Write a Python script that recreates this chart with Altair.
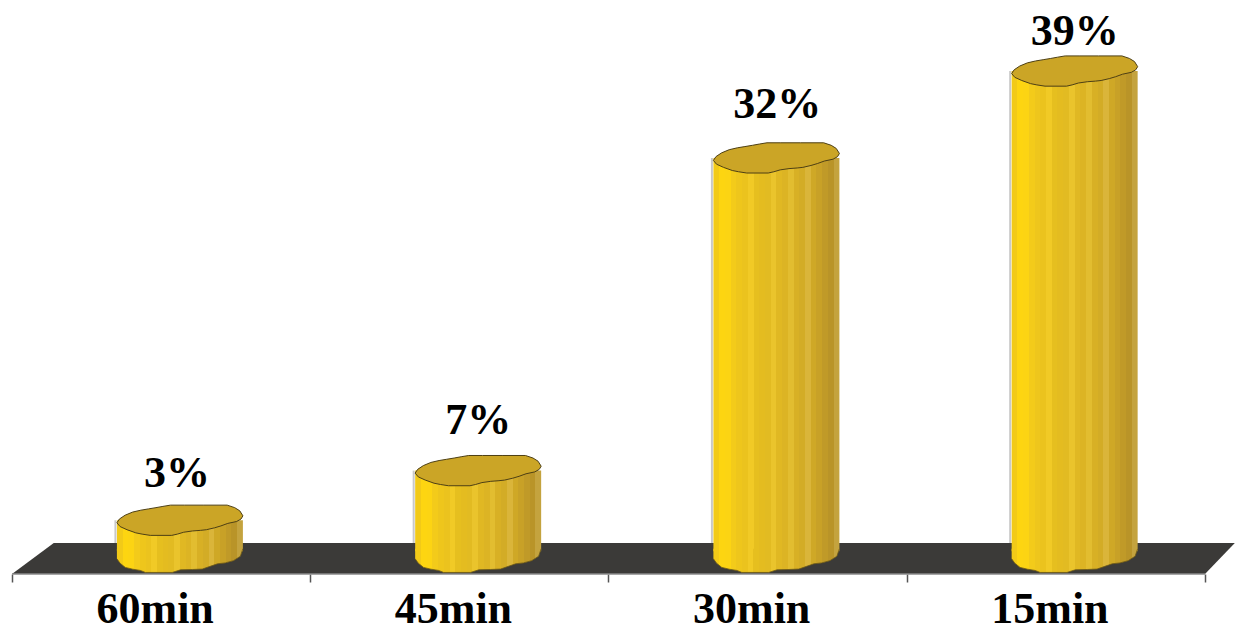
import altair as alt
import pandas as pd

categories = ["60min", "45min", "30min", "15min"]
bar_values = [2.8, 6.8, 32, 39]
value_labels = ["3%", "7%", "32%", "39%"]
label_heights = [5.48, 9.75, 35.2, 41.1]
label_positions = [0.553, 1.563, 2.566, 3.563]
tick_positions = [0, 1, 2, 3, 4]
floor_x = [0.0, 0.14, 4.0, 4.1]
floor_top = [-1.531, 0.967, 0.967, 0.967]
floor_bottom = [-1.531, -1.531, -1.531, 0.967]
facet_colors = ["#f2ca18", "#fdd511", "#fcd413", "#f3cb1a", "#eec61c", "#ebc31e", "#f1ca26",
                "#e6bf1f", "#e4bc20", "#e2bb22", "#eac42c", "#e0b823", "#dcb424", "#e2bd30",
                "#d8b025", "#d3ac26", "#dab53a", "#cfa826", "#c8a127", "#c09a28", "#b99428",
                "#c4a33e"]

BAR_OFFSET = 0.563
BAR_HALF = 0.2112
SYMBOL_SIZE = 126 ** 2
TOP_SHAPE = ("M-1,.04L-.96,-.02L-.87,-.08L-.75,-.13L-.62,-.16L-.5,-.18L-.38,-.2L-.27,-.22L-.15,-.24"
             "L.07,-.24L.38,-.24L.75,-.24L.87,-.2L.95,-.15L1,-.07L.97,-.02L.9,.02L.76,.05L.65,.09"
             "L.55,.12L.42,.15L.33,.16L.2,.17L.06,.19L-.04,.22L-.13,.24L-.47,.24L-.6,.22L-.7,.2"
             "L-.84,.15L-.95,.1Z")
BOTTOM_EDGE = ("M-1,.06L-.95,.13L-.867,.197L-.75,.225L-.628,.245L-.548,.277L-.122,.277L.01,.235"
               "L.2,.23L.356,.223L.48,.18L.596,.14L.72,.125L.85,.09L.96,.02L1,-.1")
BOTTOM_FILL = BOTTOM_EDGE + "L-1,-.1Z"

stops = []
for i, c in enumerate(facet_colors):
    stops.append(alt.GradientStop(offset=i / len(facet_colors), color=c))
    stops.append(alt.GradientStop(offset=(i + 1) / len(facet_colors), color=c))
facets = alt.Gradient(gradient="linear", stops=stops, x1=0, x2=1, y1=0, y2=0)

bars = pd.DataFrame({
    "category": categories,
    "value": bar_values,
    "label": value_labels,
    "center": [i + BAR_OFFSET for i in range(len(categories))],
    "left": [i + BAR_OFFSET - BAR_HALF for i in range(len(categories))],
    "right": [i + BAR_OFFSET + BAR_HALF for i in range(len(categories))],
    "label_x": label_positions,
    "cat_x": [i + 0.48 for i in range(len(categories))],
    "zero": 0.0,
    "body_end": 0.3,
    "floor": 0.967,
    "label_y": label_heights,
    "cat_y": -5.48,
})
floor = pd.DataFrame({"fx": floor_x, "ftop": floor_top, "fbot": floor_bottom})
baseline = pd.DataFrame({"x0": [min(tick_positions)], "x1": [max(tick_positions)], "y0": [-1.531]})

x_scale = alt.Scale(domain=[-0.0134, 4.1375], nice=False, zero=False)
y_scale = alt.Scale(domain=[-1.531, 44.08], nice=False, zero=False)
x_axis = alt.Axis(values=tick_positions, labels=False, title=None, grid=False, domain=False,
                  tickColor="#555555", tickSize=8, tickWidth=1.5)


def xq(field):
    return alt.X(field, type="quantitative", scale=x_scale, axis=x_axis)


def yq(field):
    return alt.Y(field, type="quantitative", scale=y_scale, axis=None)


floor_layer = alt.Chart(floor).mark_area(color="#3b3a38", line=False, opacity=1).encode(
    x=xq("fx"), y=yq("ftop"), y2="fbot:Q")
base_rule = alt.Chart(baseline).mark_rule(color="#8a8a8a", strokeWidth=1.5).encode(
    x=xq("x0"), x2="x1:Q", y=yq("y0"))

base = alt.Chart(bars)
edge_rule = base.mark_rule(color="#c9c9c9", strokeWidth=2, xOffset=-1.5).encode(
    x=xq("left"), y=yq("value"), y2="floor:Q")
body = base.mark_rect(fill=facets).encode(
    x=xq("left"), x2="right:Q", y=yq("value"), y2="body_end:Q")
bottom_fill = base.mark_point(shape=BOTTOM_FILL, size=SYMBOL_SIZE, filled=True, fill=facets,
                              opacity=1).encode(x=xq("center"), y=yq("zero"))
bottom_edge = base.mark_point(shape=BOTTOM_EDGE, size=SYMBOL_SIZE, filled=False, color="#6e5a18",
                              strokeWidth=1, opacity=0.8).encode(x=xq("center"), y=yq("zero"))
top = base.mark_point(shape=TOP_SHAPE, size=SYMBOL_SIZE, filled=True, fill="#cba526",
                      stroke="#4d3f14", strokeWidth=1, opacity=1).encode(x=xq("center"), y=yq("value"))
value_text = base.mark_text(font="Liberation Serif", fontWeight="bold", fontSize=44,
                            color="#000000", baseline="alphabetic").encode(
    x=xq("label_x"), y=yq("label_y"), text="label:N")
cat_text = base.mark_text(font="Liberation Serif", fontWeight="bold", fontSize=44,
                          color="#000000", baseline="alphabetic").encode(
    x=xq("cat_x"), y=yq("cat_y"), text="category:N")

chart = alt.layer(floor_layer, base_rule, edge_rule, body, bottom_fill, bottom_edge, top,
                  value_text, cat_text).properties(
    width=1238, height=566,
    padding={"left": 0, "top": 0, "right": 0, "bottom": 60},
    autosize=alt.AutoSizeParams(type="none"),
    background="white",
).configure_view(stroke=None)

chart.save("out.html", embed_options={"renderer": "svg", "actions": False})
